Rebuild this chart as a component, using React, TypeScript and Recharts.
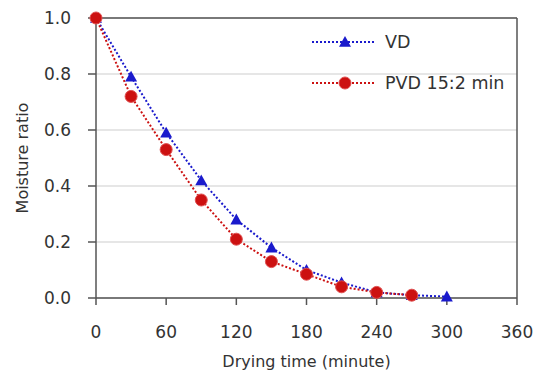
import React from "react";
import { LineChart, Line, XAxis, YAxis, CartesianGrid, ReferenceLine, Label } from "recharts";

const times = [0, 30, 60, 90, 120, 150, 180, 210, 240, 270, 300];
const vd = [1.0, 0.79, 0.59, 0.42, 0.28, 0.18, 0.1, 0.055, 0.02, 0.01, 0.005];
const pvd = [1.0, 0.72, 0.53, 0.35, 0.21, 0.13, 0.085, 0.04, 0.02, 0.01, null];
const xTicks = [0, 60, 120, 180, 240, 300, 360];
const yTicks = [0, 0.2, 0.4, 0.6, 0.8, 1.0];
const seriesNames = ["VD", "PVD 15:2 min"];

const data = times.map((t, i) => ({ t, vd: vd[i], pvd: pvd[i] }));

const BLUE = "#1a1acc";
const RED = "#cc1111";
const FONT = "DejaVu Sans, Verdana, sans-serif";

const Triangle = (props: any) => {
  const { cx, cy } = props;
  if (cx == null || cy == null) return null;
  const s = 6;
  return <path d={`M${cx},${cy - s} L${cx + s},${cy + s * 0.8} L${cx - s},${cy + s * 0.8} Z`} fill={BLUE} />;
};
const Circle = (props: any) => {
  const { cx, cy } = props;
  if (cx == null || cy == null) return null;
  return <circle cx={cx} cy={cy} r={6} fill={RED} stroke="#e05050" strokeWidth={1} />;
};

const LegendBox = () => (
  <svg width={240} height={70} style={{ position: "absolute", left: 308, top: 22 }}>
    <line x1={4} y1={20} x2={68} y2={20} stroke={BLUE} strokeWidth={2} strokeDasharray="2 2" />
    <Triangle cx={37} cy={20} />
    <text x={77} y={26} fontFamily={FONT} fontSize={17.5} fill="#333">{seriesNames[0]}</text>
    <line x1={4} y1={61} x2={68} y2={61} stroke={RED} strokeWidth={2} strokeDasharray="2 2" />
    <Circle cx={37} cy={61} />
    <text x={77} y={67} fontFamily={FONT} fontSize={17.5} fill="#333">{seriesNames[1]}</text>
  </svg>
);

export default function App() {
  return (
    <div style={{ position: "absolute", left: 0, top: 0, width: 539, height: 376, background: "#fff" }}>
      <LineChart width={539} height={376} data={data} margin={{ top: 18, right: 22, bottom: 8, left: 10 }}>
        <CartesianGrid horizontal vertical={false} stroke="#dedede" strokeWidth={1.5} />
        <XAxis
          dataKey="t"
          type="number"
          domain={[0, 360]}
          ticks={xTicks}
          height={70}
          tickSize={7}
          tickMargin={21}
          axisLine={{ stroke: "#555", strokeWidth: 1.5 }}
          tickLine={{ stroke: "#555", strokeWidth: 1.5 }}
          tick={{ fontFamily: FONT, fontSize: 17, fill: "#333" }}
        >
          <Label value="Drying time (minute)" position="insideBottom" offset={1} style={{ fontFamily: FONT, fontSize: 16, fill: "#333" }} />
        </XAxis>
        <YAxis
          type="number"
          domain={[0, 1]}
          ticks={yTicks}
          width={86}
          tickSize={8}
          tickMargin={17}
          tickFormatter={(v: number) => v.toFixed(1)}
          axisLine={{ stroke: "#555", strokeWidth: 1.5 }}
          tickLine={{ stroke: "#555", strokeWidth: 1.5 }}
          tick={{ fontFamily: FONT, fontSize: 17, fill: "#333" }}
        >
          <Label value="Moisture ratio" angle={-90} position="insideLeft" offset={12} style={{ fontFamily: FONT, fontSize: 16, fill: "#333", textAnchor: "middle" }} />
        </YAxis>
        <ReferenceLine y={1} stroke="#555" strokeWidth={1.5} />
        <ReferenceLine x={360} stroke="#555" strokeWidth={1.5} />
        <Line dataKey="vd" stroke={BLUE} strokeWidth={2} strokeDasharray="2 2" dot={<Triangle />} isAnimationActive={false} />
        <Line dataKey="pvd" stroke={RED} strokeWidth={2} strokeDasharray="2 2" dot={<Circle />} isAnimationActive={false} />
      </LineChart>
      <LegendBox />
    </div>
  );
}
